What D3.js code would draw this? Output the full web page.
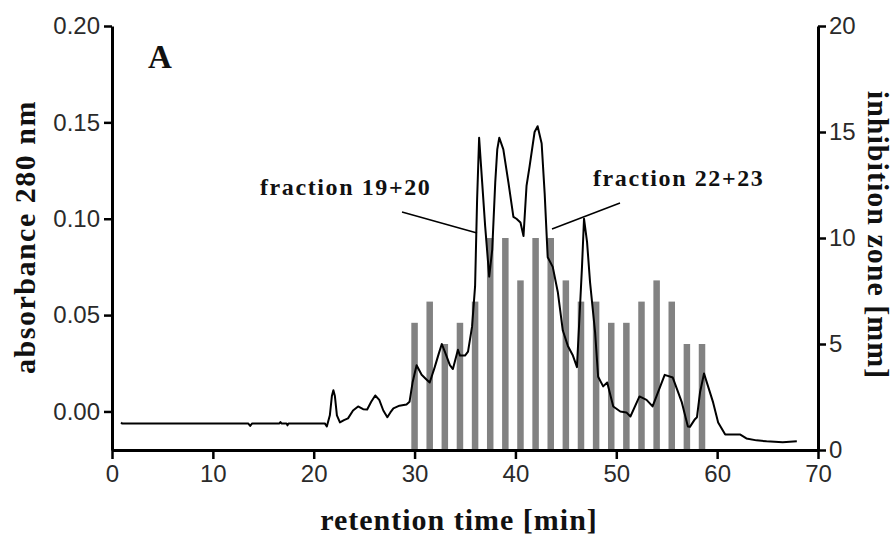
<!DOCTYPE html>
<html>
<head>
<meta charset="utf-8">
<script src="https://cdn.jsdelivr.net/npm/d3@7"></script>
<style>
  body { margin: 0; background: #fff; }
  svg { display: block; }
  .tick text { font-family: "Liberation Sans", Arial, sans-serif; font-size: 24px; fill: #2a2a2a; }
  .title { font-family: "Liberation Serif", "Times New Roman", serif; font-weight: bold; fill: #111; }
</style>
</head>
<body>
<svg id="chart" width="895" height="543"></svg>
<script>
// retention time of each collected fraction [min] and its inhibition zone [mm]
var fractionTimes = [30, 31.5, 33, 34.5, 36, 37.5, 39, 40.5, 42, 43.5, 45, 46.5, 48, 49.5, 51, 52.5, 54, 55.5, 57, 58.5];
var inhibitionZones = [6, 7, 5, 6, 7, 10, 10, 8, 10, 10, 8, 7, 7, 6, 6, 7, 8, 7, 5, 5];

// absorbance trace (280 nm)
var traceTimes = [0.9, 1.0, 13.5, 13.7, 13.9, 16.6, 16.7, 16.8, 17.3, 17.4, 17.5, 21.1, 21.3, 21.6, 21.8, 21.95, 22.1, 22.3, 22.6, 23.0,
    23.4, 23.9, 24.4, 24.9, 25.3, 25.7, 26.1, 26.5, 26.9, 27.3, 27.6, 27.9, 28.5, 29.2, 29.5, 29.8, 30.2, 30.7, 31.1, 31.5,
    32.0, 32.4, 32.7, 33.0, 33.5, 33.8, 34.3, 34.5, 35.0, 35.3, 35.7, 36.0, 36.2, 36.4, 36.7, 37.0, 37.4, 37.7, 38.0, 38.2,
    38.4, 38.8, 39.3, 39.8, 40.1, 40.5, 40.8, 41.1, 41.4, 41.9, 42.2, 42.6, 42.9, 43.2, 43.7, 44.2, 44.7, 45.2, 45.7, 46.1,
    46.4, 46.6, 46.8, 47.1, 47.4, 47.9, 48.2, 48.7, 49.1, 49.7, 50.4, 51.0, 51.4, 52.3, 53.0, 53.6, 54.8, 55.6, 56.5, 57.1,
    57.3, 57.8, 58.0, 58.3, 58.7, 59.1, 59.6, 60.1, 60.8, 62.3, 62.9, 63.9, 64.9, 66.5, 67.9];
var absorbance = [-0.0057, -0.0062, -0.0062, -0.0075, -0.0062, -0.0062, -0.0055, -0.0062, -0.0062, -0.0072, -0.0062, -0.0062, -0.0078, -0.002, 0.008, 0.011, 0.008, -0.002, -0.0057, -0.0045,
    -0.0036, 0.0005, 0.0026, 0.0012, 0.001, 0.005, 0.0083, 0.006, 0.0005, -0.003, -0.0005, 0.0016, 0.003, 0.0036, 0.005, 0.015, 0.024, 0.019, 0.017, 0.015,
    0.023, 0.030, 0.035, 0.031, 0.024, 0.022, 0.032, 0.029, 0.029, 0.031, 0.044, 0.065, 0.110, 0.142, 0.119, 0.096, 0.070, 0.084, 0.119, 0.136,
    0.142, 0.136, 0.119, 0.101, 0.100, 0.098, 0.091, 0.117, 0.127, 0.145, 0.148, 0.139, 0.113, 0.080, 0.075, 0.062, 0.042, 0.034, 0.029, 0.023,
    0.054, 0.075, 0.100, 0.088, 0.067, 0.041, 0.018, 0.013, 0.015, 0.0026, 0.0, -0.0005, -0.0026, 0.0078, 0.006, 0.0026, 0.019, 0.0176, 0.0047, -0.0078,
    -0.008, -0.004, -0.003, 0.0098, 0.0197, 0.013, 0.0047, -0.0057, -0.012, -0.012, -0.014, -0.015, -0.0155, -0.016, -0.0155];

var xTicks = [0, 10, 20, 30, 40, 50, 60, 70];
var leftTicks = [0.00, 0.05, 0.10, 0.15, 0.20];
var rightTicks = [0, 5, 10, 15, 20];

var svg = d3.select("#chart");

var x = d3.scaleLinear().domain([0, 70]).range([112, 818]);
var yLeft = d3.scaleLinear().domain([-0.02, 0.20]).range([450, 26]);
var yRight = d3.scaleLinear().domain([0, 20]).range([450, 26]);

// bars (inhibition zone)
var barW = 6.5;
svg.append("g").selectAll("rect")
    .data(fractionTimes)
    .enter().append("rect")
    .attr("x", function (d) { return x(d) - barW / 2; })
    .attr("y", function (d, i) { return yRight(inhibitionZones[i]); })
    .attr("width", barW)
    .attr("height", function (d, i) { return yRight(0) - yRight(inhibitionZones[i]); })
    .attr("fill", "#828282");

// absorbance line
var line = d3.line()
    .x(function (d) { return x(d); })
    .y(function (d, i) { return yLeft(absorbance[i]); });

svg.append("path")
    .datum(traceTimes)
    .attr("d", line)
    .attr("fill", "none")
    .attr("stroke", "#000")
    .attr("stroke-width", 2)
    .attr("stroke-linejoin", "round");

// axes
function styleAxis(g) {
    g.select(".domain").attr("stroke", "#000").attr("stroke-width", 3);
    g.selectAll(".tick line").attr("stroke", "#000").attr("stroke-width", 2.5);
}

svg.append("g")
    .attr("transform", "translate(0,450)")
    .call(d3.axisBottom(x).tickValues(xTicks).tickSize(9).tickSizeOuter(0).tickPadding(6))
    .call(styleAxis);

svg.append("g")
    .attr("transform", "translate(112,0)")
    .call(d3.axisLeft(yLeft).tickValues(leftTicks).tickFormat(d3.format(".2f")).tickSize(8).tickSizeOuter(0).tickPadding(4))
    .call(styleAxis);

svg.append("g")
    .attr("transform", "translate(818,0)")
    .call(d3.axisRight(yRight).tickValues(rightTicks).tickSize(8).tickSizeOuter(0).tickPadding(3))
    .call(styleAxis);

// titles
svg.append("text").attr("class", "title")
    .attr("x", 459).attr("y", 530)
    .attr("text-anchor", "middle")
    .style("font-size", "30px")
    .style("letter-spacing", "1px")
    .text("retention time [min]");

svg.append("text").attr("class", "title")
    .attr("transform", "translate(35,237) rotate(-90)")
    .attr("text-anchor", "middle")
    .style("font-size", "30px")
    .style("letter-spacing", "1.5px")
    .text("absorbance 280 nm");

svg.append("text").attr("class", "title")
    .attr("transform", "translate(868,235) rotate(90)")
    .attr("text-anchor", "middle")
    .style("font-size", "30px")
    .style("letter-spacing", "1px")
    .text("inhibition zone [mm]");

svg.append("text").attr("class", "title")
    .attr("x", 148).attr("y", 68)
    .style("font-size", "33px")
    .text("A");

// fraction annotations
svg.append("text").attr("class", "title")
    .attr("x", 260).attr("y", 195)
    .style("font-size", "24px")
    .style("letter-spacing", "1.6px")
    .text("fraction 19+20");

svg.append("text").attr("class", "title")
    .attr("x", 593).attr("y", 186)
    .style("font-size", "24px")
    .style("letter-spacing", "1.6px")
    .text("fraction 22+23");

svg.append("line")
    .attr("x1", 402).attr("y1", 212).attr("x2", 477).attr("y2", 233)
    .attr("stroke", "#000").attr("stroke-width", 1.5);

svg.append("line")
    .attr("x1", 552).attr("y1", 229).attr("x2", 620).attr("y2", 203)
    .attr("stroke", "#000").attr("stroke-width", 1.5);
</script>
</body>
</html>
